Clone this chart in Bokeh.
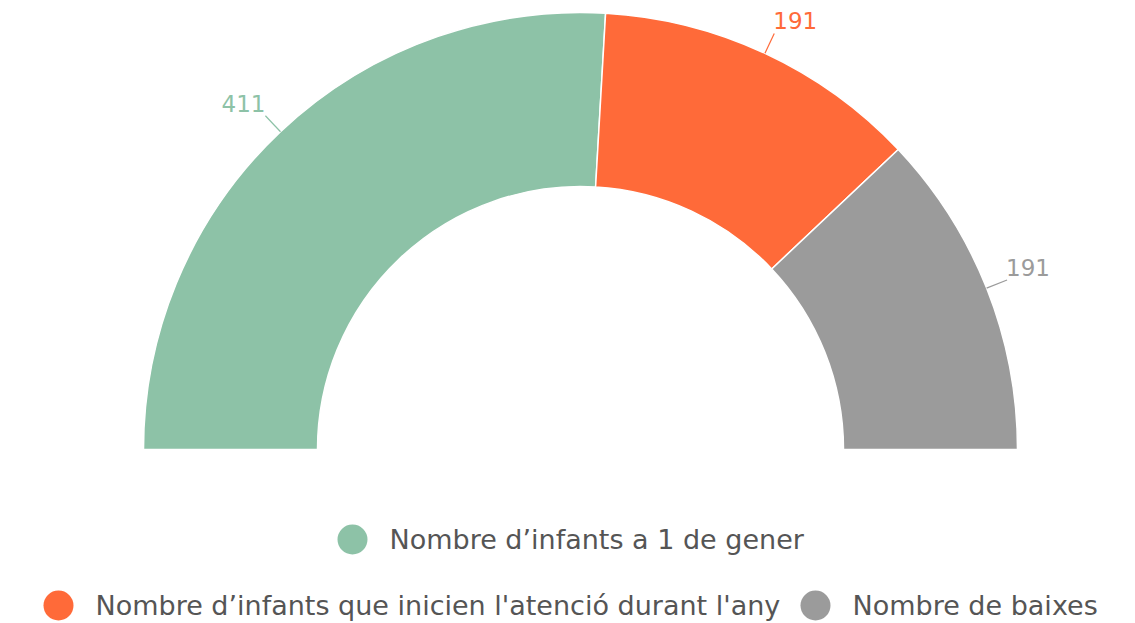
import math
from bokeh.plotting import figure
from bokeh.models import Range1d, ColumnDataSource
from bokeh.core.properties import value
from bokeh.embed import file_html
from bokeh.resources import INLINE

categories = ["Nombre d\u2019infants a 1 de gener",
              "Nombre d\u2019infants que inicien l'atenci\u00f3 durant l'any",
              "Nombre de baixes"]
values = [411, 191, 191]
colors = ["#8DC2A7", "#FF6A39", "#9B9B9B"]

FONT = "DejaVu Sans"
R_OUT, R_IN = 437, 263

p = figure(width=1135, height=623, output_backend="svg", toolbar_location=None,
           x_range=Range1d(-580, 555), y_range=Range1d(-174, 449), min_border=0)
p.axis.visible = False
p.grid.visible = False
p.outline_line_color = None
p.background_fill_color = "white"
p.border_fill_color = "white"

total = sum(values)
starts, ends, mids = [], [], []
cum = 0
for v in values:
    a0 = math.pi - cum / total * math.pi
    cum += v
    a1 = math.pi - cum / total * math.pi
    starts.append(a1)
    ends.append(a0)
    mids.append((a0 + a1) / 2)

src = ColumnDataSource(dict(start=starts, end=ends, color=colors))
p.annular_wedge(x=0, y=0, inner_radius=R_IN, outer_radius=R_OUT,
                start_angle="start", end_angle="end", direction="anticlock",
                fill_color="color", line_color="white", line_width=1.5, source=src)

# data labels with connectors
for v, m, c in zip(values, mids, colors):
    x0, y0 = R_OUT * math.cos(m), R_OUT * math.sin(m)
    x1, y1 = (R_OUT + 22) * math.cos(m), (R_OUT + 22) * math.sin(m)
    p.line([x0, x1], [y0, y1], line_color=c, line_width=1.2)
    right = math.cos(m) >= 0
    p.text(x=[x1 + (-1 if right else 0)], y=[y1 + 4], text=[str(v)],
           text_align="left" if right else "right", text_baseline="bottom",
           text_color=c, text_font=value(FONT), text_font_size="23px")

# legend (manual, centered rows)
LEG_SIZE = "27px"
leg_items = [(0, -228, -90), (1, -522, -156), (2, 235, -156)]
for i, lx, ly in leg_items:
    p.scatter(x=[lx], y=[ly], size=30, marker="circle", fill_color=colors[i], line_color=None)
    p.text(x=[lx + 37], y=[ly], text=[categories[i]], text_align="left", text_baseline="middle",
           text_color="#555555", text_font=value(FONT), text_font_size=LEG_SIZE)

open("out.html", "w").write(file_html(p, INLINE))
